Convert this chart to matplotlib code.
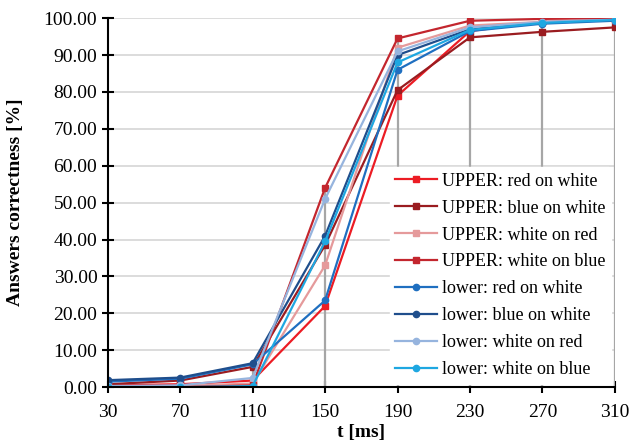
import matplotlib.pyplot as plt

# data
t_ms = [30, 70, 110, 150, 190, 230, 270, 310]

series_names = ['UPPER: red on white', 'UPPER: blue on white',
                'UPPER: white on red', 'UPPER: white on blue',
                'lower: red on white', 'lower: blue on white',
                'lower: white on red', 'lower: white on blue']

upper_red_on_white = [0.5, 0.8, 1.8, 22.0, 79.0, 96.5, 99.0, 99.5]
upper_blue_on_white = [0.8, 1.8, 5.5, 38.5, 80.5, 94.8, 96.3, 97.5]
upper_white_on_red = [0.3, 0.3, 1.0, 33.0, 92.0, 98.0, 99.0, 99.5]
upper_white_on_blue = [0.0, 0.0, 0.5, 54.0, 94.5, 99.3, 99.8, 100.0]
lower_red_on_white = [1.5, 2.3, 6.2, 23.5, 86.0, 96.5, 98.5, 99.3]
lower_blue_on_white = [1.9, 2.6, 6.5, 41.0, 90.0, 97.0, 98.8, 99.5]
lower_white_on_red = [0.3, 0.5, 2.5, 51.0, 91.0, 97.5, 99.0, 99.6]
lower_white_on_blue = [0.0, 0.0, 0.3, 39.5, 88.0, 96.8, 98.7, 99.5]

all_values = [upper_red_on_white, upper_blue_on_white, upper_white_on_red,
              upper_white_on_blue, lower_red_on_white, lower_blue_on_white,
              lower_white_on_red, lower_white_on_blue]

colors = ['#ec1c24', '#9a1c20', '#e59a9b', '#c3262e',
          '#1f6fc0', '#1f4e8c', '#96b4de', '#1ea7e1']
markers = ['s', 's', 's', 's', 'o', 'o', 'o', 'o']

plt.rcParams['font.family'] = ['Liberation Serif', 'DejaVu Serif']

fig = plt.figure(figsize=(6.3, 4.43), dpi=100)
ax = fig.add_axes([0.171, 0.126, 0.805, 0.833])

# drop lines from the highest point down to the axis
tops = [max(v[i] for v in all_values) for i in range(len(t_ms))]
ax.vlines(t_ms, 0, tops, color='#a6a6a6', linewidth=1.6, zorder=2)

for name, vals, c, m in zip(series_names, all_values, colors, markers):
    ax.plot(t_ms, vals, color=c, marker=m, markersize=4.5, linewidth=1.6,
            label=name, zorder=3)

ax.set_xlim(30, 310)
ax.set_ylim(0, 100)
ax.set_xticks(t_ms)
ax.set_yticks(range(0, 101, 10))
ax.set_yticklabels([f'{v:.2f}' for v in range(0, 101, 10)])
ax.grid(axis='y', color='#d9d9d9', linewidth=1.3, zorder=1)
ax.set_axisbelow(True)

for s in ['top', 'right']:
    ax.spines[s].set_visible(False)
for s in ['left', 'bottom']:
    ax.spines[s].set_linewidth(1.5)
    ax.spines[s].set_zorder(4)

ax.tick_params(axis='both', direction='inout', length=8, width=1.5,
               labelsize=14)
ax.tick_params(axis='x', pad=8)

ax.set_xlabel('t [ms]', fontsize=14, fontweight='bold', labelpad=2)
ax.set_ylabel('Answers correctness [%]', fontsize=14, fontweight='bold',
              labelpad=14)

leg = ax.legend(loc='lower right', bbox_to_anchor=(1.0, 0.0), fontsize=13,
                frameon=True, framealpha=1.0, edgecolor='white',
                facecolor='white', labelspacing=0.55, handlelength=2.3,
                handletextpad=0.3, borderpad=0.3, borderaxespad=0.2)
leg.set_zorder(5)

fig.savefig('out.png', dpi=100)
